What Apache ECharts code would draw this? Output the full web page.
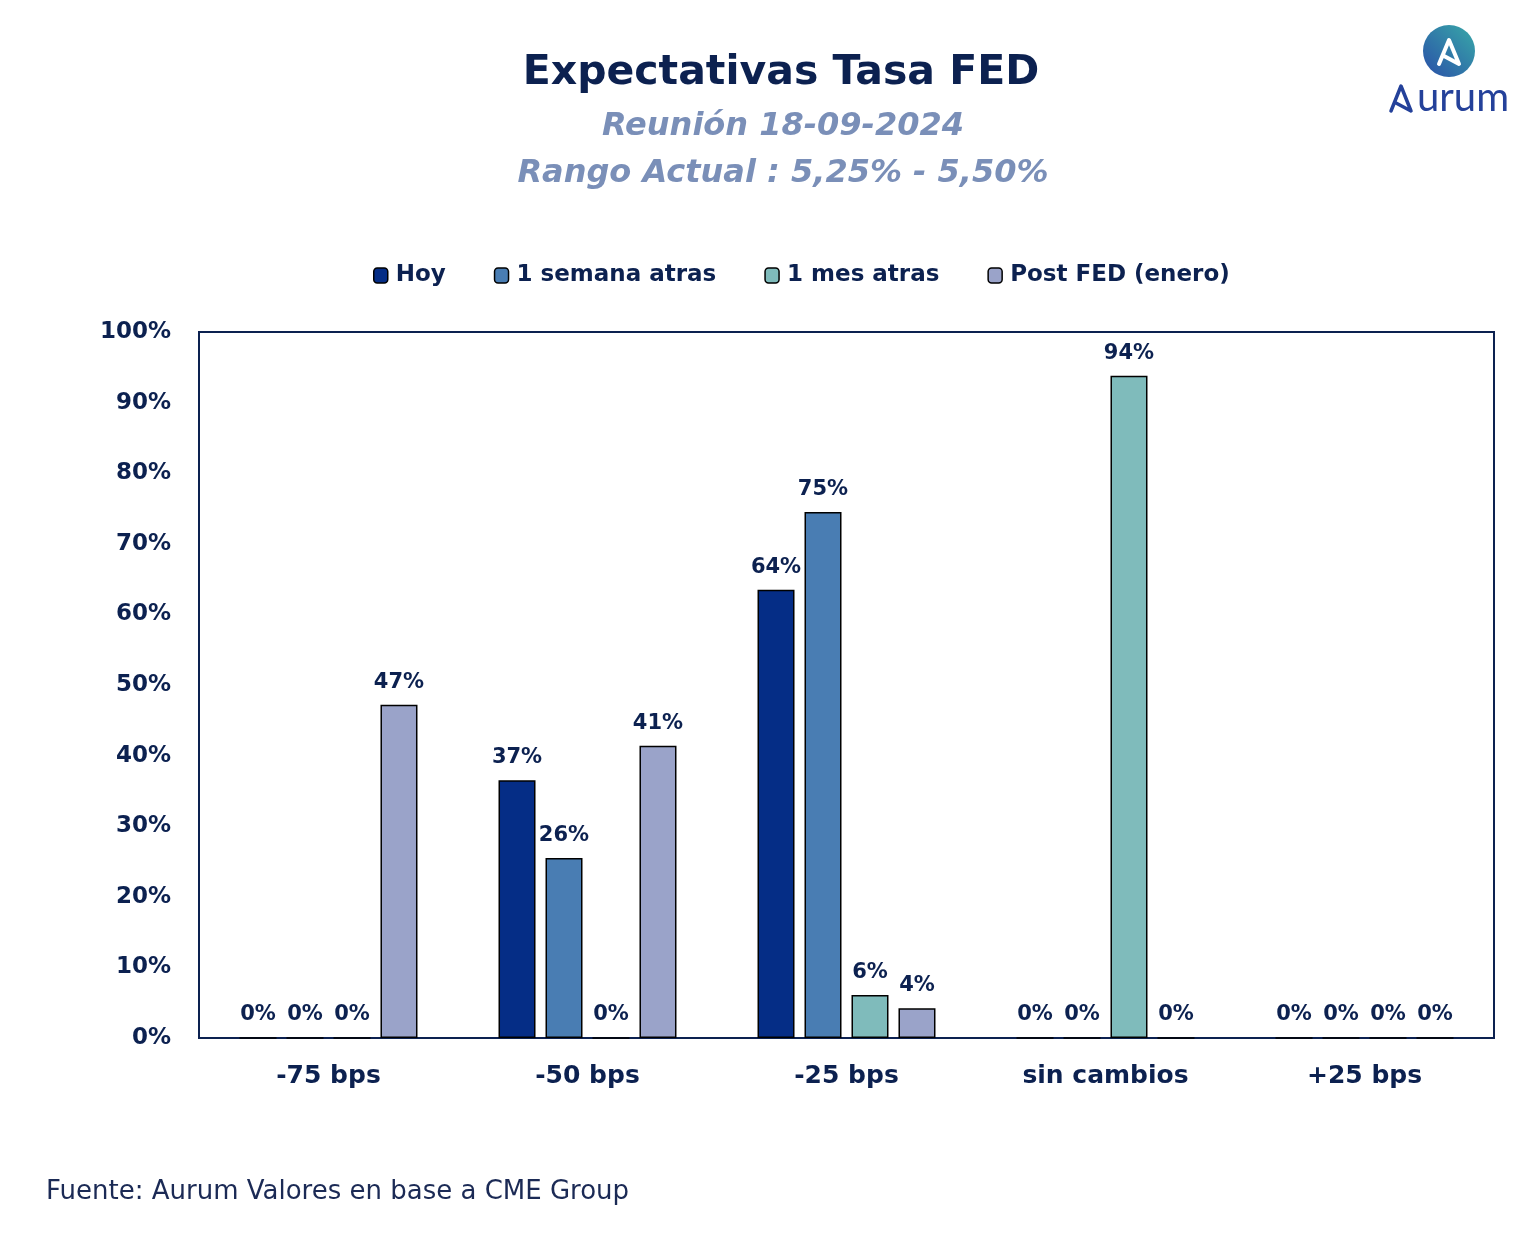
<!DOCTYPE html>
<html><head><meta charset="utf-8">
<script src="https://cdn.jsdelivr.net/npm/echarts@6/dist/echarts.min.js"></script>
<style>html,body{margin:0;padding:0;background:#fff}#c{width:1540px;height:1260px}</style>
</head><body><div id="c"></div>
<script>
const categories = ['-75 bps', '-50 bps', '-25 bps', 'sin cambios', '+25 bps'];
const hoy = [0, 36.5, 63.5, 0, 0];
const semana = [0, 25.5, 74.5, 0, 0];
const mes = [0, 0, 6.1, 93.8, 0];
const postFed = [47.2, 41.4, 4.2, 0, 0];
const seriesNames = ['Hoy', '1 semana atras', '1 mes atras', 'Post FED (enero)'];
const colors = ['#052d86', '#497db3', '#7fbbbb', '#9aa3c9'];
const yTicks = [0, 10, 20, 30, 40, 50, 60, 70, 80, 90, 100];

const navy = '#0c2150';
const font = 'DejaVu Sans, Verdana, sans-serif';
const chart = echarts.init(document.getElementById('c'));
const allData = [hoy, semana, mes, postFed];
const series = allData.map((d, i) => ({
  name: seriesNames[i], type: 'bar', data: d,
  barWidth: 37, barGap: '27%',
  itemStyle: { color: colors[i], borderColor: '#000', borderWidth: 1.5 },
  label: { show: true, position: 'top', distance: 12, color: navy, fontFamily: font, fontWeight: 'bold', fontSize: 21,
    formatter: p => Math.round(p.value) + '%' }
}));
chart.setOption({
  animation: false,
  backgroundColor: '#fff',
  title: [
    { text: 'Expectativas Tasa FED', left: 776, top: 48, textAlign: 'center',
      textStyle: { fontFamily: font, fontWeight: 'bold', fontSize: 41, color: navy } },
    { text: 'Reunión 18-09-2024', left: 778, top: 106, textAlign: 'center',
      textStyle: { fontFamily: font, fontWeight: 'bold', fontStyle: 'italic', fontSize: 32, color: '#7a8fb8' } },
    { text: 'Rango Actual : 5,25% - 5,50%', left: 778, top: 153, textAlign: 'center',
      textStyle: { fontFamily: font, fontWeight: 'bold', fontStyle: 'italic', fontSize: 32, color: '#7a8fb8' } }
  ],
  legend: {
    top: 259, left: 368, itemWidth: 14, itemHeight: 15, itemGap: 48,
    data: seriesNames,
    itemStyle: { borderColor: '#000', borderWidth: 1.5 },
    textStyle: { fontFamily: font, fontWeight: 'bold', fontSize: 23, color: navy, padding: [0, 0, 0, 3] }
  },
  grid: { left: 199, right: 46, top: 332, bottom: 222, show: true, borderColor: navy, borderWidth: 2, containLabel: false },
  xAxis: {
    type: 'category', data: categories,
    axisLine: { lineStyle: { color: navy, width: 2 } },
    axisTick: { show: false },
    axisLabel: { margin: 26, fontFamily: font, fontWeight: 'bold', fontSize: 25, color: navy }
  },
  yAxis: {
    type: 'value', min: 0, max: 100, interval: 10,
    axisLine: { show: true, lineStyle: { color: navy, width: 2 } },
    axisTick: { show: false },
    splitLine: { show: false },
    axisLabel: { margin: 28, fontFamily: font, fontWeight: 'bold', fontSize: 23, color: navy,
      formatter: v => yTicks.includes(v) ? v + '%' : '' }
  },
  series: series,
  graphic: [
    { type: 'circle', shape: { cx: 1449, cy: 51, r: 26 },
      style: { fill: new echarts.graphic.LinearGradient(0, 1, 1, 0, [{ offset: 0, color: '#2a4fa8' }, { offset: 1, color: '#38a9a8' }]) } },
    { type: 'polyline', shape: { points: [[1439, 64], [1449, 40], [1459, 64], [1444, 56]] },
      style: { stroke: '#fff', lineWidth: 4, fill: null, lineJoin: 'round', lineCap: 'round' } },
    { type: 'polyline', shape: { points: [[1391, 111], [1401, 86], [1411, 111], [1396, 103]] },
      style: { stroke: '#24419a', lineWidth: 3.5, fill: null, lineJoin: 'round', lineCap: 'round' } },
    { type: 'text', left: 1417, top: 78,
      style: { text: 'urum', fontFamily: 'Lato, sans-serif', fontSize: 40, fill: '#24419a' } },
    { type: 'text', left: 46, top: 1179,
      style: { text: 'Fuente: Aurum Valores en base a CME Group', fontFamily: 'DejaVu Sans, sans-serif', fontSize: 26, fill: '#1b2a55' } }
  ]
});
</script></body></html>
